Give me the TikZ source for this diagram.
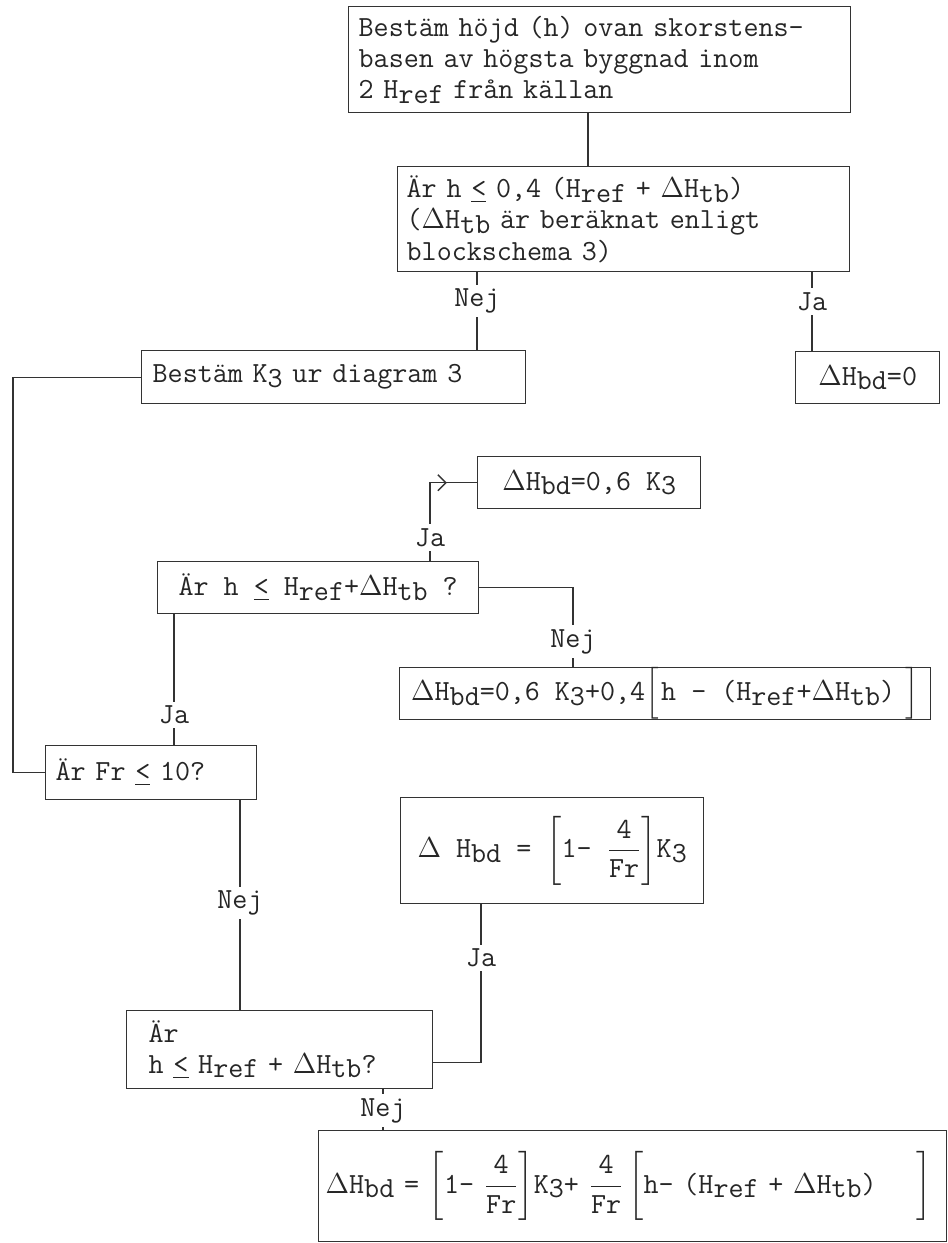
\documentclass[tikz,border=0pt]{standalone}
\usepackage{amsmath}
\usepackage{fontspec}
\usetikzlibrary{arrows.meta}
\usetikzlibrary{positioning,calc,decorations.markings}
\newcommand{\tw}{\ttfamily\fontsize{14.6}{15.6}\selectfont\lineskiplimit=-20pt\relax}
\newcommand{\lowr}[1]{\raisebox{-0.36ex}{#1}}
\newcommand{\dlt}{\ensuremath{\Delta}}
\newcommand{\lte}{\underline{<}}
\newcommand{\frc}{\dfrac{\text{4}}{\text{Fr}}}
\tikzset{
  every node/.style={text=black!85},
  mid arrow/.style={
    postaction={decorate},
    decoration={markings,
      mark=at position 0.76 with {\arrow{Straight Barb[length=4pt,width=8pt]}}}
  }
}

\begin{document}
\begin{tikzpicture}[x=0.5pt, y=-0.5pt]
  \tikzset{
    box/.style={
      draw=black!80,
      line width=0.7pt,
      anchor=north west,
      inner ysep=0pt,
      font=\tw
    },
    lbox/.style={box, align=left},
    cbox/.style={box, align=center},
    line/.style={
      draw=black!80,
      line width=0.7pt
    },
    tag/.style={fill=white, inner sep=2pt, font=\tw}
  }
  \useasboundingbox (0,0) rectangle (948,1243);
  \fill[white] (0,0) rectangle (948,1243);

  \node[lbox, text width=241pt, inner xsep=5pt, minimum height=53pt] (hojd) at (348,6)
    {Bestäm höjd (h) ovan skorstens-\\basen av högsta byggnad inom\\2 H\lowr{ref} från källan};
  \node[lbox, text width=217pt, inner xsep=4.5pt, minimum height=52.5pt] (fraga1) at (397,166)
    {Är h \lte{} 0,4 (H\lowr{ref} + \dlt H\lowr{tb})\\(\dlt H\lowr{tb} är beräknat enligt\\blockschema 3)};
  \node[lbox, text width=181pt, inner xsep=5.5pt, minimum height=26.5pt] (bestK) at (141,350)
    {Bestäm K\lowr{3} ur diagram 3};
  \node[cbox, minimum width=72pt, minimum height=26pt] (noll) at (795,351)
    {\dlt H\lowr{bd}=0};
  \node[cbox, minimum width=111.5pt, minimum height=26pt] (sexK) at (477,456)
    {\dlt H\lowr{bd}=0,6 K\lowr{3}};
  \node[cbox, minimum width=160.5pt, minimum height=26pt] (fraga2) at (157,561)
    {\mbox{Är h \lte{} H\lowr{ref}+\dlt H\lowr{tb} ?}};
  \node[cbox, minimum width=265.5pt, minimum height=26pt] (sexKh) at (399,667)
    {\mbox{\dlt H\lowr{bd}=0,6 K\lowr{3}+0,4$\left[\vphantom{\rule[-6pt]{0pt}{13pt}}\right.$h - (H\lowr{ref}+\dlt H\lowr{tb})\hspace{4pt}$\left.\vphantom{\rule[-6pt]{0pt}{13pt}}\right]$}};
  \node[lbox, text width=95.5pt, inner xsep=5pt, minimum height=27pt] (fraga3) at (45,745)
    {Är Fr \lte{} 10?};
  \node[cbox, minimum width=151.5pt, minimum height=53pt] (frK) at (400,797)
    {\mbox{\dlt{} H\lowr{bd} = $\left[\text{1- }\frc\right]$K\lowr{3}}};
  \node[lbox, text width=131pt, inner xsep=11pt, minimum height=39pt] (fraga4) at (126,1010)
    {Är\\\mbox{h \lte{} H\lowr{ref} + \dlt H\lowr{tb}?}};
  \node[lbox, text width=307pt, inner xsep=3.5pt, minimum height=55.5pt] (frKh) at (318,1130)
    {\mbox{\dlt H\lowr{bd} = $\left[\text{1- }\frc\right]$K\lowr{3}+ $\frc\left[\text{h- (H\lowr{ref} + \dlt H\lowr{tb})}\hspace{20pt}\vphantom{\frc}\right]$}};

  % columns of the vertical lines
  \coordinate (x1) at (588,0);
  \coordinate (x2) at (477,0);
  \coordinate (x3) at (812,0);
  \coordinate (x4) at (13,0);
  \coordinate (x5) at (430,0);
  \coordinate (x6) at (573,0);
  \coordinate (x7) at (174,0);
  \coordinate (x8) at (240,0);
  \coordinate (x9) at (481,0);
  \coordinate (x10) at (383,0);

  \draw[line] (hojd.south -| x1) -- (fraga1.north -| x1);
  \draw[line] (fraga1.south -| x2) -- node[tag, pos=0.37] {Nej} (bestK.north -| x2);
  \draw[line] (fraga1.south -| x3) -- node[tag, pos=0.37] {Ja} (noll.north -| x3);
  \draw[line] (bestK.west) -- (bestK.west -| x4) |- (fraga3.west);
  \draw[line, mid arrow] (fraga2.north -| x5) |- node[tag, pos=0.15] {Ja} (sexK.west);
  \draw[line] (fraga2.east) -| node[tag, pos=0.84] {Nej} (sexKh.north -| x6);
  \draw[line] (fraga2.south -| x7) -- node[tag, pos=0.77] {Ja} (fraga3.north -| x7);
  \draw[line] (fraga3.south -| x8) -- node[tag, pos=0.49] {Nej} (fraga4.north -| x8);
  \draw[line] (frK.south -| x9) |- node[tag, pos=0.17] {Ja} ([yshift=-6.5pt]fraga4.east);
  \draw[line] (fraga4.south -| x10) -- node[tag, pos=0.52] {Nej} (frKh.north -| x10);
\end{tikzpicture}
\end{document}
